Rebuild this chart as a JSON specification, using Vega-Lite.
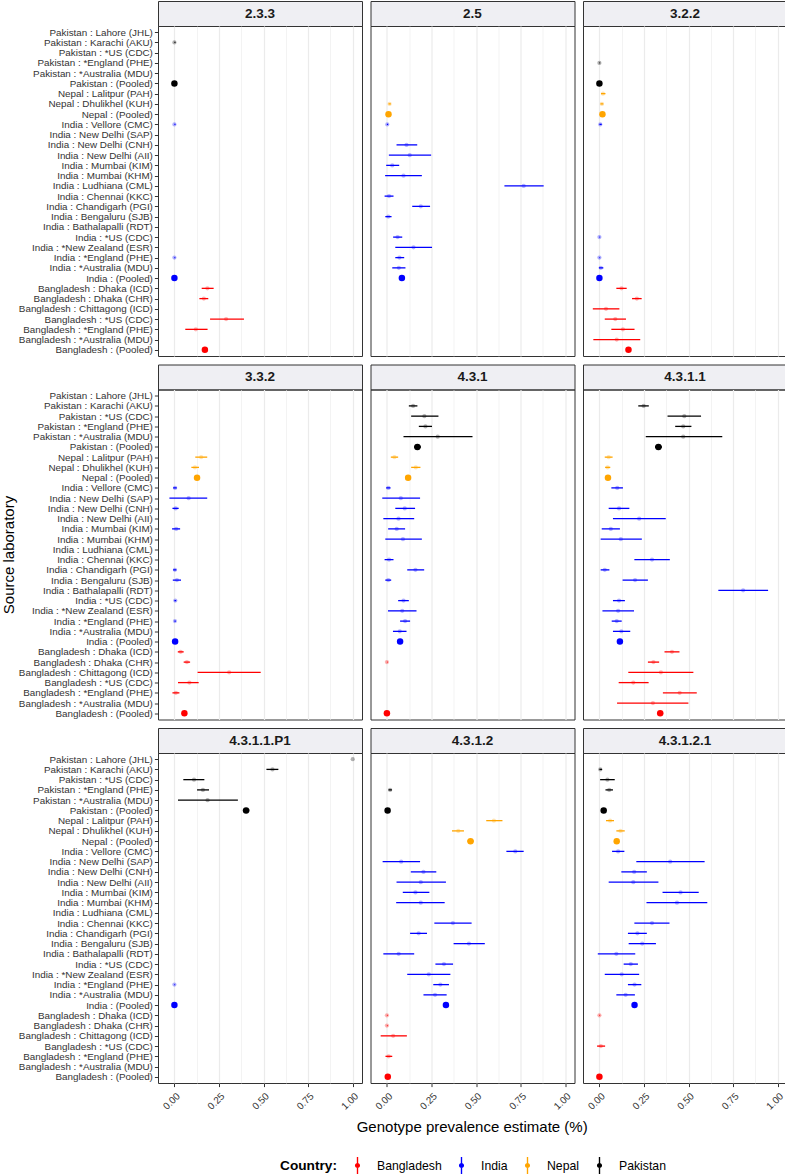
{
"$schema": "https://vega.github.io/schema/vega-lite/v6.json",
"padding": {"left": 0, "top": 0, "right": 0, "bottom": 0},
"background": "white",
"title": {"text": "Genotype prevalence estimate (%)", "orient": "bottom", "anchor": "middle", "fontSize": 15, "fontWeight": "normal", "font": "Liberation Sans", "color": "#000000", "offset": -54, "dx": 78},
"datasets": {"d": [
{"g":"2.3.3","c":"Pakistan","lab":"Pakistan : Karachi (AKU)","est":0,"lo":0,"hi":0.006},
{"g":"2.3.3","c":"Pakistan","lab":"Pakistan : (Pooled)","est":0,"lo":0,"hi":0.003},
{"g":"2.3.3","c":"India","lab":"India : Vellore (CMC)","est":0,"lo":0,"hi":0.006},
{"g":"2.3.3","c":"India","lab":"India : *England (PHE)","est":0,"lo":0,"hi":0.005},
{"g":"2.3.3","c":"India","lab":"India : (Pooled)","est":0,"lo":0,"hi":0.002},
{"g":"2.3.3","c":"Bangladesh","lab":"Bangladesh : Dhaka (ICD)","est":0.185,"lo":0.153,"hi":0.22},
{"g":"2.3.3","c":"Bangladesh","lab":"Bangladesh : Dhaka (CHR)","est":0.165,"lo":0.14,"hi":0.19},
{"g":"2.3.3","c":"Bangladesh","lab":"Bangladesh : *US (CDC)","est":0.29,"lo":0.2,"hi":0.39},
{"g":"2.3.3","c":"Bangladesh","lab":"Bangladesh : *England (PHE)","est":0.12,"lo":0.061,"hi":0.186},
{"g":"2.3.3","c":"Bangladesh","lab":"Bangladesh : (Pooled)","est":0.171,"lo":0.158,"hi":0.184},

{"g":"2.5","c":"Nepal","lab":"Nepal : Dhulikhel (KUH)","est":0.015,"lo":0.009,"hi":0.022},
{"g":"2.5","c":"Nepal","lab":"Nepal : (Pooled)","est":0.009,"lo":0.004,"hi":0.014},
{"g":"2.5","c":"India","lab":"India : Vellore (CMC)","est":0.002,"lo":0,"hi":0.007},
{"g":"2.5","c":"India","lab":"India : New Delhi (CNH)","est":0.11,"lo":0.054,"hi":0.17},
{"g":"2.5","c":"India","lab":"India : New Delhi (AII)","est":0.128,"lo":0.011,"hi":0.248},
{"g":"2.5","c":"India","lab":"India : Mumbai (KIM)","est":0.03,"lo":-0.004,"hi":0.069},
{"g":"2.5","c":"India","lab":"India : Mumbai (KHM)","est":0.093,"lo":-0.01,"hi":0.196},
{"g":"2.5","c":"India","lab":"India : Ludhiana (CML)","est":0.767,"lo":0.659,"hi":0.879},
{"g":"2.5","c":"India","lab":"India : Chennai (KKC)","est":0.012,"lo":-0.013,"hi":0.037},
{"g":"2.5","c":"India","lab":"India : Chandigarh (PGI)","est":0.19,"lo":0.142,"hi":0.242},
{"g":"2.5","c":"India","lab":"India : Bengaluru (SJB)","est":0.008,"lo":-0.009,"hi":0.026},
{"g":"2.5","c":"India","lab":"India : *US (CDC)","est":0.06,"lo":0.035,"hi":0.086},
{"g":"2.5","c":"India","lab":"India : *New Zealand (ESR)","est":0.149,"lo":0.047,"hi":0.253},
{"g":"2.5","c":"India","lab":"India : *England (PHE)","est":0.07,"lo":0.047,"hi":0.097},
{"g":"2.5","c":"India","lab":"India : *Australia (MDU)","est":0.067,"lo":0.03,"hi":0.104},
{"g":"2.5","c":"India","lab":"India : (Pooled)","est":0.084,"lo":0.074,"hi":0.094},

{"g":"3.2.2","c":"Pakistan","lab":"Pakistan : *England (PHE)","est":0,"lo":0,"hi":0.004},
{"g":"3.2.2","c":"Pakistan","lab":"Pakistan : (Pooled)","est":0,"lo":0,"hi":0.003},
{"g":"3.2.2","c":"Nepal","lab":"Nepal : Lalitpur (PAH)","est":0.02,"lo":0.009,"hi":0.034},
{"g":"3.2.2","c":"Nepal","lab":"Nepal : Dhulikhel (KUH)","est":0.014,"lo":0.006,"hi":0.022},
{"g":"3.2.2","c":"Nepal","lab":"Nepal : (Pooled)","est":0.017,"lo":0.01,"hi":0.024},
{"g":"3.2.2","c":"India","lab":"India : Vellore (CMC)","est":0.005,"lo":0,"hi":0.013},
{"g":"3.2.2","c":"India","lab":"India : *US (CDC)","est":0,"lo":0,"hi":0.004},
{"g":"3.2.2","c":"India","lab":"India : *England (PHE)","est":0,"lo":0,"hi":0.004},
{"g":"3.2.2","c":"India","lab":"India : *Australia (MDU)","est":0.008,"lo":-0.003,"hi":0.022},
{"g":"3.2.2","c":"India","lab":"India : (Pooled)","est":0,"lo":0,"hi":0.003},
{"g":"3.2.2","c":"Bangladesh","lab":"Bangladesh : Dhaka (ICD)","est":0.124,"lo":0.095,"hi":0.153},
{"g":"3.2.2","c":"Bangladesh","lab":"Bangladesh : Dhaka (CHR)","est":0.21,"lo":0.183,"hi":0.237},
{"g":"3.2.2","c":"Bangladesh","lab":"Bangladesh : Chittagong (ICD)","est":0.037,"lo":-0.037,"hi":0.112},
{"g":"3.2.2","c":"Bangladesh","lab":"Bangladesh : *US (CDC)","est":0.089,"lo":0.03,"hi":0.149},
{"g":"3.2.2","c":"Bangladesh","lab":"Bangladesh : *England (PHE)","est":0.132,"lo":0.067,"hi":0.197},
{"g":"3.2.2","c":"Bangladesh","lab":"Bangladesh : *Australia (MDU)","est":0.097,"lo":-0.034,"hi":0.229},
{"g":"3.2.2","c":"Bangladesh","lab":"Bangladesh : (Pooled)","est":0.163,"lo":0.152,"hi":0.174},

{"g":"3.3.2","c":"Nepal","lab":"Nepal : Lalitpur (PAH)","est":0.15,"lo":0.117,"hi":0.184},
{"g":"3.3.2","c":"Nepal","lab":"Nepal : Dhulikhel (KUH)","est":0.115,"lo":0.095,"hi":0.138},
{"g":"3.3.2","c":"Nepal","lab":"Nepal : (Pooled)","est":0.127,"lo":0.115,"hi":0.14},
{"g":"3.3.2","c":"India","lab":"India : Vellore (CMC)","est":0.004,"lo":-0.007,"hi":0.013},
{"g":"3.3.2","c":"India","lab":"India : New Delhi (SAP)","est":0.08,"lo":-0.028,"hi":0.184},
{"g":"3.3.2","c":"India","lab":"India : New Delhi (CNH)","est":0.007,"lo":-0.011,"hi":0.024},
{"g":"3.3.2","c":"India","lab":"India : Mumbai (KIM)","est":0.01,"lo":-0.013,"hi":0.032},
{"g":"3.3.2","c":"India","lab":"India : Chandigarh (PGI)","est":0.003,"lo":-0.007,"hi":0.011},
{"g":"3.3.2","c":"India","lab":"India : Bengaluru (SJB)","est":0.014,"lo":-0.009,"hi":0.037},
{"g":"3.3.2","c":"India","lab":"India : *US (CDC)","est":0.005,"lo":0,"hi":0.01},
{"g":"3.3.2","c":"India","lab":"India : *England (PHE)","est":0.003,"lo":0,"hi":0.008},
{"g":"3.3.2","c":"India","lab":"India : (Pooled)","est":0.004,"lo":0,"hi":0.008},
{"g":"3.3.2","c":"Bangladesh","lab":"Bangladesh : Dhaka (ICD)","est":0.035,"lo":0.019,"hi":0.052},
{"g":"3.3.2","c":"Bangladesh","lab":"Bangladesh : Dhaka (CHR)","est":0.07,"lo":0.052,"hi":0.088},
{"g":"3.3.2","c":"Bangladesh","lab":"Bangladesh : Chittagong (ICD)","est":0.307,"lo":0.13,"hi":0.484},
{"g":"3.3.2","c":"Bangladesh","lab":"Bangladesh : *US (CDC)","est":0.084,"lo":0.02,"hi":0.136},
{"g":"3.3.2","c":"Bangladesh","lab":"Bangladesh : *England (PHE)","est":0.008,"lo":-0.011,"hi":0.028},
{"g":"3.3.2","c":"Bangladesh","lab":"Bangladesh : (Pooled)","est":0.056,"lo":0.048,"hi":0.064},

{"g":"4.3.1","c":"Pakistan","lab":"Pakistan : Karachi (AKU)","est":0.147,"lo":0.123,"hi":0.171},
{"g":"4.3.1","c":"Pakistan","lab":"Pakistan : *US (CDC)","est":0.21,"lo":0.136,"hi":0.289},
{"g":"4.3.1","c":"Pakistan","lab":"Pakistan : *England (PHE)","est":0.216,"lo":0.179,"hi":0.253},
{"g":"4.3.1","c":"Pakistan","lab":"Pakistan : *Australia (MDU)","est":0.285,"lo":0.093,"hi":0.48},
{"g":"4.3.1","c":"Pakistan","lab":"Pakistan : (Pooled)","est":0.171,"lo":0.153,"hi":0.19},
{"g":"4.3.1","c":"Nepal","lab":"Nepal : Lalitpur (PAH)","est":0.042,"lo":0.022,"hi":0.063},
{"g":"4.3.1","c":"Nepal","lab":"Nepal : Dhulikhel (KUH)","est":0.162,"lo":0.136,"hi":0.188},
{"g":"4.3.1","c":"Nepal","lab":"Nepal : (Pooled)","est":0.119,"lo":0.106,"hi":0.132},
{"g":"4.3.1","c":"India","lab":"India : Vellore (CMC)","est":0.008,"lo":-0.004,"hi":0.02},
{"g":"4.3.1","c":"India","lab":"India : New Delhi (SAP)","est":0.078,"lo":-0.026,"hi":0.186},
{"g":"4.3.1","c":"India","lab":"India : New Delhi (CNH)","est":0.1,"lo":0.047,"hi":0.158},
{"g":"4.3.1","c":"India","lab":"India : New Delhi (AII)","est":0.065,"lo":-0.02,"hi":0.153},
{"g":"4.3.1","c":"India","lab":"India : Mumbai (KIM)","est":0.055,"lo":0.007,"hi":0.102},
{"g":"4.3.1","c":"India","lab":"India : Mumbai (KHM)","est":0.09,"lo":-0.009,"hi":0.196},
{"g":"4.3.1","c":"India","lab":"India : Chennai (KKC)","est":0.012,"lo":-0.013,"hi":0.037},
{"g":"4.3.1","c":"India","lab":"India : Chandigarh (PGI)","est":0.16,"lo":0.114,"hi":0.209},
{"g":"4.3.1","c":"India","lab":"India : Bengaluru (SJB)","est":0.008,"lo":-0.009,"hi":0.024},
{"g":"4.3.1","c":"India","lab":"India : *US (CDC)","est":0.093,"lo":0.063,"hi":0.123},
{"g":"4.3.1","c":"India","lab":"India : *New Zealand (ESR)","est":0.086,"lo":0.006,"hi":0.166},
{"g":"4.3.1","c":"India","lab":"India : *England (PHE)","est":0.102,"lo":0.074,"hi":0.13},
{"g":"4.3.1","c":"India","lab":"India : *Australia (MDU)","est":0.072,"lo":0.034,"hi":0.11},
{"g":"4.3.1","c":"India","lab":"India : (Pooled)","est":0.074,"lo":0.066,"hi":0.082},
{"g":"4.3.1","c":"Bangladesh","lab":"Bangladesh : Dhaka (CHR)","est":0,"lo":0,"hi":0.004},
{"g":"4.3.1","c":"Bangladesh","lab":"Bangladesh : (Pooled)","est":0,"lo":0,"hi":0.003},

{"g":"4.3.1.1","c":"Pakistan","lab":"Pakistan : Karachi (AKU)","est":0.248,"lo":0.218,"hi":0.277},
{"g":"4.3.1.1","c":"Pakistan","lab":"Pakistan : *US (CDC)","est":0.476,"lo":0.382,"hi":0.57},
{"g":"4.3.1.1","c":"Pakistan","lab":"Pakistan : *England (PHE)","est":0.47,"lo":0.425,"hi":0.516},
{"g":"4.3.1.1","c":"Pakistan","lab":"Pakistan : *Australia (MDU)","est":0.47,"lo":0.26,"hi":0.689},
{"g":"4.3.1.1","c":"Pakistan","lab":"Pakistan : (Pooled)","est":0.331,"lo":0.312,"hi":0.35},
{"g":"4.3.1.1","c":"Nepal","lab":"Nepal : Lalitpur (PAH)","est":0.052,"lo":0.03,"hi":0.074},
{"g":"4.3.1.1","c":"Nepal","lab":"Nepal : Dhulikhel (KUH)","est":0.046,"lo":0.032,"hi":0.061},
{"g":"4.3.1.1","c":"Nepal","lab":"Nepal : (Pooled)","est":0.048,"lo":0.04,"hi":0.056},
{"g":"4.3.1.1","c":"India","lab":"India : Vellore (CMC)","est":0.1,"lo":0.067,"hi":0.132},
{"g":"4.3.1.1","c":"India","lab":"India : New Delhi (CNH)","est":0.11,"lo":0.052,"hi":0.168},
{"g":"4.3.1.1","c":"India","lab":"India : New Delhi (AII)","est":0.223,"lo":0.076,"hi":0.372},
{"g":"4.3.1.1","c":"India","lab":"India : Mumbai (KIM)","est":0.064,"lo":0.013,"hi":0.115},
{"g":"4.3.1.1","c":"India","lab":"India : Mumbai (KHM)","est":0.12,"lo":0.007,"hi":0.238},
{"g":"4.3.1.1","c":"India","lab":"India : Chennai (KKC)","est":0.295,"lo":0.196,"hi":0.395},
{"g":"4.3.1.1","c":"India","lab":"India : Chandigarh (PGI)","est":0.03,"lo":0.007,"hi":0.056},
{"g":"4.3.1.1","c":"India","lab":"India : Bengaluru (SJB)","est":0.2,"lo":0.13,"hi":0.272},
{"g":"4.3.1.1","c":"India","lab":"India : Bathalapalli (RDT)","est":0.806,"lo":0.667,"hi":0.946},
{"g":"4.3.1.1","c":"India","lab":"India : *US (CDC)","est":0.11,"lo":0.076,"hi":0.143},
{"g":"4.3.1.1","c":"India","lab":"India : *New Zealand (ESR)","est":0.105,"lo":0.017,"hi":0.194},
{"g":"4.3.1.1","c":"India","lab":"India : *England (PHE)","est":0.097,"lo":0.069,"hi":0.125},
{"g":"4.3.1.1","c":"India","lab":"India : *Australia (MDU)","est":0.123,"lo":0.076,"hi":0.173},
{"g":"4.3.1.1","c":"India","lab":"India : (Pooled)","est":0.115,"lo":0.105,"hi":0.125},
{"g":"4.3.1.1","c":"Bangladesh","lab":"Bangladesh : Dhaka (ICD)","est":0.407,"lo":0.365,"hi":0.449},
{"g":"4.3.1.1","c":"Bangladesh","lab":"Bangladesh : Dhaka (CHR)","est":0.303,"lo":0.272,"hi":0.335},
{"g":"4.3.1.1","c":"Bangladesh","lab":"Bangladesh : Chittagong (ICD)","est":0.345,"lo":0.162,"hi":0.527},
{"g":"4.3.1.1","c":"Bangladesh","lab":"Bangladesh : *US (CDC)","est":0.19,"lo":0.108,"hi":0.276},
{"g":"4.3.1.1","c":"Bangladesh","lab":"Bangladesh : *England (PHE)","est":0.45,"lo":0.356,"hi":0.546},
{"g":"4.3.1.1","c":"Bangladesh","lab":"Bangladesh : *Australia (MDU)","est":0.3,"lo":0.099,"hi":0.499},
{"g":"4.3.1.1","c":"Bangladesh","lab":"Bangladesh : (Pooled)","est":0.341,"lo":0.325,"hi":0.357},

{"g":"4.3.1.1.P1","c":"Pakistan","lab":"Pakistan : Lahore (JHL)","est":1,"lo":1,"hi":1},
{"g":"4.3.1.1.P1","c":"Pakistan","lab":"Pakistan : Karachi (AKU)","est":0.55,"lo":0.516,"hi":0.583},
{"g":"4.3.1.1.P1","c":"Pakistan","lab":"Pakistan : *US (CDC)","est":0.11,"lo":0.05,"hi":0.168},
{"g":"4.3.1.1.P1","c":"Pakistan","lab":"Pakistan : *England (PHE)","est":0.16,"lo":0.127,"hi":0.194},
{"g":"4.3.1.1.P1","c":"Pakistan","lab":"Pakistan : *Australia (MDU)","est":0.186,"lo":0.02,"hi":0.356},
{"g":"4.3.1.1.P1","c":"Pakistan","lab":"Pakistan : (Pooled)","est":0.402,"lo":0.384,"hi":0.42},
{"g":"4.3.1.1.P1","c":"India","lab":"India : *England (PHE)","est":0,"lo":0,"hi":0.004},
{"g":"4.3.1.1.P1","c":"India","lab":"India : (Pooled)","est":0,"lo":0,"hi":0.003},

{"g":"4.3.1.2","c":"Pakistan","lab":"Pakistan : *England (PHE)","est":0.018,"lo":0.009,"hi":0.028},
{"g":"4.3.1.2","c":"Pakistan","lab":"Pakistan : (Pooled)","est":0.004,"lo":0,"hi":0.008},
{"g":"4.3.1.2","c":"Nepal","lab":"Nepal : Lalitpur (PAH)","est":0.6,"lo":0.557,"hi":0.648},
{"g":"4.3.1.2","c":"Nepal","lab":"Nepal : Dhulikhel (KUH)","est":0.4,"lo":0.365,"hi":0.432},
{"g":"4.3.1.2","c":"Nepal","lab":"Nepal : (Pooled)","est":0.469,"lo":0.452,"hi":0.486},
{"g":"4.3.1.2","c":"India","lab":"India : Vellore (CMC)","est":0.72,"lo":0.67,"hi":0.767},
{"g":"4.3.1.2","c":"India","lab":"India : New Delhi (SAP)","est":0.08,"lo":-0.024,"hi":0.186},
{"g":"4.3.1.2","c":"India","lab":"India : New Delhi (CNH)","est":0.205,"lo":0.134,"hi":0.277},
{"g":"4.3.1.2","c":"India","lab":"India : New Delhi (AII)","est":0.19,"lo":0.054,"hi":0.331},
{"g":"4.3.1.2","c":"India","lab":"India : Mumbai (KIM)","est":0.16,"lo":0.089,"hi":0.238},
{"g":"4.3.1.2","c":"India","lab":"India : Mumbai (KHM)","est":0.19,"lo":0.052,"hi":0.324},
{"g":"4.3.1.2","c":"India","lab":"India : Chennai (KKC)","est":0.37,"lo":0.266,"hi":0.475},
{"g":"4.3.1.2","c":"India","lab":"India : Chandigarh (PGI)","est":0.178,"lo":0.13,"hi":0.225},
{"g":"4.3.1.2","c":"India","lab":"India : Bengaluru (SJB)","est":0.46,"lo":0.374,"hi":0.549},
{"g":"4.3.1.2","c":"India","lab":"India : Bathalapalli (RDT)","est":0.066,"lo":-0.02,"hi":0.153},
{"g":"4.3.1.2","c":"India","lab":"India : *US (CDC)","est":0.32,"lo":0.272,"hi":0.371},
{"g":"4.3.1.2","c":"India","lab":"India : *New Zealand (ESR)","est":0.235,"lo":0.114,"hi":0.356},
{"g":"4.3.1.2","c":"India","lab":"India : *England (PHE)","est":0.3,"lo":0.26,"hi":0.348},
{"g":"4.3.1.2","c":"India","lab":"India : *Australia (MDU)","est":0.27,"lo":0.205,"hi":0.335},
{"g":"4.3.1.2","c":"India","lab":"India : (Pooled)","est":0.331,"lo":0.316,"hi":0.346},
{"g":"4.3.1.2","c":"Bangladesh","lab":"Bangladesh : Dhaka (ICD)","est":0,"lo":0,"hi":0.004},
{"g":"4.3.1.2","c":"Bangladesh","lab":"Bangladesh : Dhaka (CHR)","est":0,"lo":0,"hi":0.004},
{"g":"4.3.1.2","c":"Bangladesh","lab":"Bangladesh : Chittagong (ICD)","est":0.035,"lo":-0.035,"hi":0.112},
{"g":"4.3.1.2","c":"Bangladesh","lab":"Bangladesh : *England (PHE)","est":0.01,"lo":-0.008,"hi":0.03},
{"g":"4.3.1.2","c":"Bangladesh","lab":"Bangladesh : (Pooled)","est":0.005,"lo":0,"hi":0.01},

{"g":"4.3.1.2.1","c":"Pakistan","lab":"Pakistan : Karachi (AKU)","est":0.005,"lo":0,"hi":0.015},
{"g":"4.3.1.2.1","c":"Pakistan","lab":"Pakistan : *US (CDC)","est":0.045,"lo":0.004,"hi":0.086},
{"g":"4.3.1.2.1","c":"Pakistan","lab":"Pakistan : *England (PHE)","est":0.055,"lo":0.034,"hi":0.076},
{"g":"4.3.1.2.1","c":"Pakistan","lab":"Pakistan : (Pooled)","est":0.024,"lo":0.014,"hi":0.034},
{"g":"4.3.1.2.1","c":"Nepal","lab":"Nepal : Lalitpur (PAH)","est":0.06,"lo":0.037,"hi":0.082},
{"g":"4.3.1.2.1","c":"Nepal","lab":"Nepal : Dhulikhel (KUH)","est":0.118,"lo":0.095,"hi":0.142},
{"g":"4.3.1.2.1","c":"Nepal","lab":"Nepal : (Pooled)","est":0.097,"lo":0.085,"hi":0.109},
{"g":"4.3.1.2.1","c":"India","lab":"India : Vellore (CMC)","est":0.105,"lo":0.071,"hi":0.14},
{"g":"4.3.1.2.1","c":"India","lab":"India : New Delhi (SAP)","est":0.397,"lo":0.207,"hi":0.59},
{"g":"4.3.1.2.1","c":"India","lab":"India : New Delhi (CNH)","est":0.195,"lo":0.123,"hi":0.266},
{"g":"4.3.1.2.1","c":"India","lab":"India : New Delhi (AII)","est":0.19,"lo":0.052,"hi":0.331},
{"g":"4.3.1.2.1","c":"India","lab":"India : Mumbai (KIM)","est":0.455,"lo":0.354,"hi":0.557},
{"g":"4.3.1.2.1","c":"India","lab":"India : Mumbai (KHM)","est":0.435,"lo":0.264,"hi":0.605},
{"g":"4.3.1.2.1","c":"India","lab":"India : Chennai (KKC)","est":0.295,"lo":0.196,"hi":0.393},
{"g":"4.3.1.2.1","c":"India","lab":"India : Chandigarh (PGI)","est":0.213,"lo":0.16,"hi":0.266},
{"g":"4.3.1.2.1","c":"India","lab":"India : Bengaluru (SJB)","est":0.24,"lo":0.164,"hi":0.317},
{"g":"4.3.1.2.1","c":"India","lab":"India : Bathalapalli (RDT)","est":0.095,"lo":-0.009,"hi":0.201},
{"g":"4.3.1.2.1","c":"India","lab":"India : *US (CDC)","est":0.176,"lo":0.136,"hi":0.216},
{"g":"4.3.1.2.1","c":"India","lab":"India : *New Zealand (ESR)","est":0.125,"lo":0.03,"hi":0.223},
{"g":"4.3.1.2.1","c":"India","lab":"India : *England (PHE)","est":0.197,"lo":0.16,"hi":0.235},
{"g":"4.3.1.2.1","c":"India","lab":"India : *Australia (MDU)","est":0.147,"lo":0.095,"hi":0.199},
{"g":"4.3.1.2.1","c":"India","lab":"India : (Pooled)","est":0.197,"lo":0.187,"hi":0.207},
{"g":"4.3.1.2.1","c":"Bangladesh","lab":"Bangladesh : Dhaka (ICD)","est":0,"lo":0,"hi":0.004},
{"g":"4.3.1.2.1","c":"Bangladesh","lab":"Bangladesh : *US (CDC)","est":0.008,"lo":-0.013,"hi":0.032},
{"g":"4.3.1.2.1","c":"Bangladesh","lab":"Bangladesh : (Pooled)","est":0,"lo":0,"hi":0.004}
]},
"spacing": 6.5,
"vconcat": [
{"hconcat": [
 {"vconcat": [
  {"width": 204, "height": 25, "view": {"fill": "#EFEFF3", "stroke": "#333333"}, "data": {"values": [{"g": "2.3.3"}]}, "mark": {"type": "text", "fontWeight": "bold", "fontSize": 13.5, "color": "#1A1A1A"}, "encoding": {"text": {"field": "g"}}},
  {"width": 204, "height": 330, "data": {"name": "d"}, "transform": [{"filter": "datum.g === '2.3.3'"}],
   "encoding": {
    "y": {"field": "lab", "type": "nominal", "scale": {"type": "point", "padding": 0.6, "domain": ["Pakistan : Lahore (JHL)","Pakistan : Karachi (AKU)","Pakistan : *US (CDC)","Pakistan : *England (PHE)","Pakistan : *Australia (MDU)","Pakistan : (Pooled)","Nepal : Lalitpur (PAH)","Nepal : Dhulikhel (KUH)","Nepal : (Pooled)","India : Vellore (CMC)","India : New Delhi (SAP)","India : New Delhi (CNH)","India : New Delhi (AII)","India : Mumbai (KIM)","India : Mumbai (KHM)","India : Ludhiana (CML)","India : Chennai (KKC)","India : Chandigarh (PGI)","India : Bengaluru (SJB)","India : Bathalapalli (RDT)","India : *US (CDC)","India : *New Zealand (ESR)","India : *England (PHE)","India : *Australia (MDU)","India : (Pooled)","Bangladesh : Dhaka (ICD)","Bangladesh : Dhaka (CHR)","Bangladesh : Chittagong (ICD)","Bangladesh : *US (CDC)","Bangladesh : *England (PHE)","Bangladesh : *Australia (MDU)","Bangladesh : (Pooled)"]}, "axis": {"title": "Source laboratory", "titleOpacity": 0, "titlePadding": 2, "labelLimit": 300, "gridWidth": 1.1}},
    "color": {"field": "c", "type": "nominal", "scale": {"domain": ["Bangladesh","India","Nepal","Pakistan"], "range": ["#FF0000","#0000FF","#FFA500","#000000"]}, "legend": {"title": "Country:", "orient": "none", "legendX": 122, "legendY": 1156, "direction": "horizontal", "titleOrient": "left", "symbolType": "M-0.08,-1H0.08V1H-0.08Z M0.3,0A0.3,0.3,0,1,1,-0.3,0A0.3,0.3,0,1,1,0.3,0Z", "symbolSize": 289, "symbolOpacity": 1, "symbolStrokeWidth": 0, "labelOffset": 11, "columnPadding": 11, "titlePadding": 11}}
   },
   "layer": [
    {"mark": {"type": "point", "filled": true}, "encoding": {"x": {"field": "est", "type": "quantitative", "scale": {"domain": [-0.092, 1.052], "nice": false, "zero": false}, "axis": {"values": [0,0.125,0.25,0.375,0.5,0.625,0.75,0.875,1], "labels": false, "ticks": false, "title": null, "gridWidth": {"condition": {"test": "datum.value % 0.25 === 0", "value": 1.2}, "value": 0.6}}}, "size": {"condition": {"test": "indexof(datum.lab, 'Pooled') >= 0", "value": 42}, "value": 18}, "opacity": {"condition": {"test": "indexof(datum.lab, 'Pooled') >= 0", "value": 1}, "value": 0.3}}},
    {"mark": {"type": "rule"}, "encoding": {"x": {"field": "lo", "type": "quantitative", "scale": {"domain": [-0.092, 1.052], "nice": false, "zero": false}, "axis": {"values": [0,0.125,0.25,0.375,0.5,0.625,0.75,0.875,1], "labels": false, "ticks": false, "title": null, "gridWidth": {"condition": {"test": "datum.value % 0.25 === 0", "value": 1.2}, "value": 0.6}}}, "x2": {"field": "hi"}, "strokeWidth": {"condition": {"test": "indexof(datum.lab, 'Pooled') >= 0", "value": 2.2}, "value": 1.3}}}
   ]}
 ], "spacing": 0, "bounds": "flush"},
 {"vconcat": [
  {"width": 204, "height": 25, "view": {"fill": "#EFEFF3", "stroke": "#333333"}, "data": {"values": [{"g": "2.5"}]}, "mark": {"type": "text", "fontWeight": "bold", "fontSize": 13.5, "color": "#1A1A1A"}, "encoding": {"text": {"field": "g"}}},
  {"width": 204, "height": 330, "data": {"name": "d"}, "transform": [{"filter": "datum.g === '2.5'"}],
   "encoding": {
    "y": {"field": "lab", "type": "nominal", "scale": {"type": "point", "padding": 0.6, "domain": ["Pakistan : Lahore (JHL)","Pakistan : Karachi (AKU)","Pakistan : *US (CDC)","Pakistan : *England (PHE)","Pakistan : *Australia (MDU)","Pakistan : (Pooled)","Nepal : Lalitpur (PAH)","Nepal : Dhulikhel (KUH)","Nepal : (Pooled)","India : Vellore (CMC)","India : New Delhi (SAP)","India : New Delhi (CNH)","India : New Delhi (AII)","India : Mumbai (KIM)","India : Mumbai (KHM)","India : Ludhiana (CML)","India : Chennai (KKC)","India : Chandigarh (PGI)","India : Bengaluru (SJB)","India : Bathalapalli (RDT)","India : *US (CDC)","India : *New Zealand (ESR)","India : *England (PHE)","India : *Australia (MDU)","India : (Pooled)","Bangladesh : Dhaka (ICD)","Bangladesh : Dhaka (CHR)","Bangladesh : Chittagong (ICD)","Bangladesh : *US (CDC)","Bangladesh : *England (PHE)","Bangladesh : *Australia (MDU)","Bangladesh : (Pooled)"]}, "axis": {"labels": false, "ticks": false, "title": null, "gridWidth": 1.1}},
    "color": {"field": "c", "type": "nominal", "scale": {"domain": ["Bangladesh","India","Nepal","Pakistan"], "range": ["#FF0000","#0000FF","#FFA500","#000000"]}, "legend": {"title": "Country:", "orient": "none", "legendX": 122, "legendY": 1156, "direction": "horizontal", "titleOrient": "left", "symbolType": "M-0.08,-1H0.08V1H-0.08Z M0.3,0A0.3,0.3,0,1,1,-0.3,0A0.3,0.3,0,1,1,0.3,0Z", "symbolSize": 289, "symbolOpacity": 1, "symbolStrokeWidth": 0, "labelOffset": 11, "columnPadding": 11, "titlePadding": 11}}
   },
   "layer": [
    {"mark": {"type": "point", "filled": true}, "encoding": {"x": {"field": "est", "type": "quantitative", "scale": {"domain": [-0.092, 1.052], "nice": false, "zero": false}, "axis": {"values": [0,0.125,0.25,0.375,0.5,0.625,0.75,0.875,1], "labels": false, "ticks": false, "title": null, "gridWidth": {"condition": {"test": "datum.value % 0.25 === 0", "value": 1.2}, "value": 0.6}}}, "size": {"condition": {"test": "indexof(datum.lab, 'Pooled') >= 0", "value": 42}, "value": 18}, "opacity": {"condition": {"test": "indexof(datum.lab, 'Pooled') >= 0", "value": 1}, "value": 0.3}}},
    {"mark": {"type": "rule"}, "encoding": {"x": {"field": "lo", "type": "quantitative", "scale": {"domain": [-0.092, 1.052], "nice": false, "zero": false}, "axis": {"values": [0,0.125,0.25,0.375,0.5,0.625,0.75,0.875,1], "labels": false, "ticks": false, "title": null, "gridWidth": {"condition": {"test": "datum.value % 0.25 === 0", "value": 1.2}, "value": 0.6}}}, "x2": {"field": "hi"}, "strokeWidth": {"condition": {"test": "indexof(datum.lab, 'Pooled') >= 0", "value": 2.2}, "value": 1.3}}}
   ]}
 ], "spacing": 0, "bounds": "flush"},
 {"vconcat": [
  {"width": 204, "height": 25, "view": {"fill": "#EFEFF3", "stroke": "#333333"}, "data": {"values": [{"g": "3.2.2"}]}, "mark": {"type": "text", "fontWeight": "bold", "fontSize": 13.5, "color": "#1A1A1A"}, "encoding": {"text": {"field": "g"}}},
  {"width": 204, "height": 330, "data": {"name": "d"}, "transform": [{"filter": "datum.g === '3.2.2'"}],
   "encoding": {
    "y": {"field": "lab", "type": "nominal", "scale": {"type": "point", "padding": 0.6, "domain": ["Pakistan : Lahore (JHL)","Pakistan : Karachi (AKU)","Pakistan : *US (CDC)","Pakistan : *England (PHE)","Pakistan : *Australia (MDU)","Pakistan : (Pooled)","Nepal : Lalitpur (PAH)","Nepal : Dhulikhel (KUH)","Nepal : (Pooled)","India : Vellore (CMC)","India : New Delhi (SAP)","India : New Delhi (CNH)","India : New Delhi (AII)","India : Mumbai (KIM)","India : Mumbai (KHM)","India : Ludhiana (CML)","India : Chennai (KKC)","India : Chandigarh (PGI)","India : Bengaluru (SJB)","India : Bathalapalli (RDT)","India : *US (CDC)","India : *New Zealand (ESR)","India : *England (PHE)","India : *Australia (MDU)","India : (Pooled)","Bangladesh : Dhaka (ICD)","Bangladesh : Dhaka (CHR)","Bangladesh : Chittagong (ICD)","Bangladesh : *US (CDC)","Bangladesh : *England (PHE)","Bangladesh : *Australia (MDU)","Bangladesh : (Pooled)"]}, "axis": {"labels": false, "ticks": false, "title": null, "gridWidth": 1.1}},
    "color": {"field": "c", "type": "nominal", "scale": {"domain": ["Bangladesh","India","Nepal","Pakistan"], "range": ["#FF0000","#0000FF","#FFA500","#000000"]}, "legend": {"title": "Country:", "orient": "none", "legendX": 122, "legendY": 1156, "direction": "horizontal", "titleOrient": "left", "symbolType": "M-0.08,-1H0.08V1H-0.08Z M0.3,0A0.3,0.3,0,1,1,-0.3,0A0.3,0.3,0,1,1,0.3,0Z", "symbolSize": 289, "symbolOpacity": 1, "symbolStrokeWidth": 0, "labelOffset": 11, "columnPadding": 11, "titlePadding": 11}}
   },
   "layer": [
    {"mark": {"type": "point", "filled": true}, "encoding": {"x": {"field": "est", "type": "quantitative", "scale": {"domain": [-0.092, 1.052], "nice": false, "zero": false}, "axis": {"values": [0,0.125,0.25,0.375,0.5,0.625,0.75,0.875,1], "labels": false, "ticks": false, "title": null, "gridWidth": {"condition": {"test": "datum.value % 0.25 === 0", "value": 1.2}, "value": 0.6}}}, "size": {"condition": {"test": "indexof(datum.lab, 'Pooled') >= 0", "value": 42}, "value": 18}, "opacity": {"condition": {"test": "indexof(datum.lab, 'Pooled') >= 0", "value": 1}, "value": 0.3}}},
    {"mark": {"type": "rule"}, "encoding": {"x": {"field": "lo", "type": "quantitative", "scale": {"domain": [-0.092, 1.052], "nice": false, "zero": false}, "axis": {"values": [0,0.125,0.25,0.375,0.5,0.625,0.75,0.875,1], "labels": false, "ticks": false, "title": null, "gridWidth": {"condition": {"test": "datum.value % 0.25 === 0", "value": 1.2}, "value": 0.6}}}, "x2": {"field": "hi"}, "strokeWidth": {"condition": {"test": "indexof(datum.lab, 'Pooled') >= 0", "value": 2.2}, "value": 1.3}}}
   ]}
 ], "spacing": 0, "bounds": "flush"}
], "spacing": 6.5},
{"hconcat": [
 {"vconcat": [
  {"width": 204, "height": 25, "view": {"fill": "#EFEFF3", "stroke": "#333333"}, "data": {"values": [{"g": "3.3.2"}]}, "mark": {"type": "text", "fontWeight": "bold", "fontSize": 13.5, "color": "#1A1A1A"}, "encoding": {"text": {"field": "g"}}},
  {"width": 204, "height": 330, "data": {"name": "d"}, "transform": [{"filter": "datum.g === '3.3.2'"}],
   "encoding": {
    "y": {"field": "lab", "type": "nominal", "scale": {"type": "point", "padding": 0.6, "domain": ["Pakistan : Lahore (JHL)","Pakistan : Karachi (AKU)","Pakistan : *US (CDC)","Pakistan : *England (PHE)","Pakistan : *Australia (MDU)","Pakistan : (Pooled)","Nepal : Lalitpur (PAH)","Nepal : Dhulikhel (KUH)","Nepal : (Pooled)","India : Vellore (CMC)","India : New Delhi (SAP)","India : New Delhi (CNH)","India : New Delhi (AII)","India : Mumbai (KIM)","India : Mumbai (KHM)","India : Ludhiana (CML)","India : Chennai (KKC)","India : Chandigarh (PGI)","India : Bengaluru (SJB)","India : Bathalapalli (RDT)","India : *US (CDC)","India : *New Zealand (ESR)","India : *England (PHE)","India : *Australia (MDU)","India : (Pooled)","Bangladesh : Dhaka (ICD)","Bangladesh : Dhaka (CHR)","Bangladesh : Chittagong (ICD)","Bangladesh : *US (CDC)","Bangladesh : *England (PHE)","Bangladesh : *Australia (MDU)","Bangladesh : (Pooled)"]}, "axis": {"title": "Source laboratory", "titleOpacity": 1, "titlePadding": 2, "labelLimit": 300, "gridWidth": 1.1}},
    "color": {"field": "c", "type": "nominal", "scale": {"domain": ["Bangladesh","India","Nepal","Pakistan"], "range": ["#FF0000","#0000FF","#FFA500","#000000"]}, "legend": {"title": "Country:", "orient": "none", "legendX": 122, "legendY": 1156, "direction": "horizontal", "titleOrient": "left", "symbolType": "M-0.08,-1H0.08V1H-0.08Z M0.3,0A0.3,0.3,0,1,1,-0.3,0A0.3,0.3,0,1,1,0.3,0Z", "symbolSize": 289, "symbolOpacity": 1, "symbolStrokeWidth": 0, "labelOffset": 11, "columnPadding": 11, "titlePadding": 11}}
   },
   "layer": [
    {"mark": {"type": "point", "filled": true}, "encoding": {"x": {"field": "est", "type": "quantitative", "scale": {"domain": [-0.092, 1.052], "nice": false, "zero": false}, "axis": {"values": [0,0.125,0.25,0.375,0.5,0.625,0.75,0.875,1], "labels": false, "ticks": false, "title": null, "gridWidth": {"condition": {"test": "datum.value % 0.25 === 0", "value": 1.2}, "value": 0.6}}}, "size": {"condition": {"test": "indexof(datum.lab, 'Pooled') >= 0", "value": 42}, "value": 18}, "opacity": {"condition": {"test": "indexof(datum.lab, 'Pooled') >= 0", "value": 1}, "value": 0.3}}},
    {"mark": {"type": "rule"}, "encoding": {"x": {"field": "lo", "type": "quantitative", "scale": {"domain": [-0.092, 1.052], "nice": false, "zero": false}, "axis": {"values": [0,0.125,0.25,0.375,0.5,0.625,0.75,0.875,1], "labels": false, "ticks": false, "title": null, "gridWidth": {"condition": {"test": "datum.value % 0.25 === 0", "value": 1.2}, "value": 0.6}}}, "x2": {"field": "hi"}, "strokeWidth": {"condition": {"test": "indexof(datum.lab, 'Pooled') >= 0", "value": 2.2}, "value": 1.3}}}
   ]}
 ], "spacing": 0, "bounds": "flush"},
 {"vconcat": [
  {"width": 204, "height": 25, "view": {"fill": "#EFEFF3", "stroke": "#333333"}, "data": {"values": [{"g": "4.3.1"}]}, "mark": {"type": "text", "fontWeight": "bold", "fontSize": 13.5, "color": "#1A1A1A"}, "encoding": {"text": {"field": "g"}}},
  {"width": 204, "height": 330, "data": {"name": "d"}, "transform": [{"filter": "datum.g === '4.3.1'"}],
   "encoding": {
    "y": {"field": "lab", "type": "nominal", "scale": {"type": "point", "padding": 0.6, "domain": ["Pakistan : Lahore (JHL)","Pakistan : Karachi (AKU)","Pakistan : *US (CDC)","Pakistan : *England (PHE)","Pakistan : *Australia (MDU)","Pakistan : (Pooled)","Nepal : Lalitpur (PAH)","Nepal : Dhulikhel (KUH)","Nepal : (Pooled)","India : Vellore (CMC)","India : New Delhi (SAP)","India : New Delhi (CNH)","India : New Delhi (AII)","India : Mumbai (KIM)","India : Mumbai (KHM)","India : Ludhiana (CML)","India : Chennai (KKC)","India : Chandigarh (PGI)","India : Bengaluru (SJB)","India : Bathalapalli (RDT)","India : *US (CDC)","India : *New Zealand (ESR)","India : *England (PHE)","India : *Australia (MDU)","India : (Pooled)","Bangladesh : Dhaka (ICD)","Bangladesh : Dhaka (CHR)","Bangladesh : Chittagong (ICD)","Bangladesh : *US (CDC)","Bangladesh : *England (PHE)","Bangladesh : *Australia (MDU)","Bangladesh : (Pooled)"]}, "axis": {"labels": false, "ticks": false, "title": null, "gridWidth": 1.1}},
    "color": {"field": "c", "type": "nominal", "scale": {"domain": ["Bangladesh","India","Nepal","Pakistan"], "range": ["#FF0000","#0000FF","#FFA500","#000000"]}, "legend": {"title": "Country:", "orient": "none", "legendX": 122, "legendY": 1156, "direction": "horizontal", "titleOrient": "left", "symbolType": "M-0.08,-1H0.08V1H-0.08Z M0.3,0A0.3,0.3,0,1,1,-0.3,0A0.3,0.3,0,1,1,0.3,0Z", "symbolSize": 289, "symbolOpacity": 1, "symbolStrokeWidth": 0, "labelOffset": 11, "columnPadding": 11, "titlePadding": 11}}
   },
   "layer": [
    {"mark": {"type": "point", "filled": true}, "encoding": {"x": {"field": "est", "type": "quantitative", "scale": {"domain": [-0.092, 1.052], "nice": false, "zero": false}, "axis": {"values": [0,0.125,0.25,0.375,0.5,0.625,0.75,0.875,1], "labels": false, "ticks": false, "title": null, "gridWidth": {"condition": {"test": "datum.value % 0.25 === 0", "value": 1.2}, "value": 0.6}}}, "size": {"condition": {"test": "indexof(datum.lab, 'Pooled') >= 0", "value": 42}, "value": 18}, "opacity": {"condition": {"test": "indexof(datum.lab, 'Pooled') >= 0", "value": 1}, "value": 0.3}}},
    {"mark": {"type": "rule"}, "encoding": {"x": {"field": "lo", "type": "quantitative", "scale": {"domain": [-0.092, 1.052], "nice": false, "zero": false}, "axis": {"values": [0,0.125,0.25,0.375,0.5,0.625,0.75,0.875,1], "labels": false, "ticks": false, "title": null, "gridWidth": {"condition": {"test": "datum.value % 0.25 === 0", "value": 1.2}, "value": 0.6}}}, "x2": {"field": "hi"}, "strokeWidth": {"condition": {"test": "indexof(datum.lab, 'Pooled') >= 0", "value": 2.2}, "value": 1.3}}}
   ]}
 ], "spacing": 0, "bounds": "flush"},
 {"vconcat": [
  {"width": 204, "height": 25, "view": {"fill": "#EFEFF3", "stroke": "#333333"}, "data": {"values": [{"g": "4.3.1.1"}]}, "mark": {"type": "text", "fontWeight": "bold", "fontSize": 13.5, "color": "#1A1A1A"}, "encoding": {"text": {"field": "g"}}},
  {"width": 204, "height": 330, "data": {"name": "d"}, "transform": [{"filter": "datum.g === '4.3.1.1'"}],
   "encoding": {
    "y": {"field": "lab", "type": "nominal", "scale": {"type": "point", "padding": 0.6, "domain": ["Pakistan : Lahore (JHL)","Pakistan : Karachi (AKU)","Pakistan : *US (CDC)","Pakistan : *England (PHE)","Pakistan : *Australia (MDU)","Pakistan : (Pooled)","Nepal : Lalitpur (PAH)","Nepal : Dhulikhel (KUH)","Nepal : (Pooled)","India : Vellore (CMC)","India : New Delhi (SAP)","India : New Delhi (CNH)","India : New Delhi (AII)","India : Mumbai (KIM)","India : Mumbai (KHM)","India : Ludhiana (CML)","India : Chennai (KKC)","India : Chandigarh (PGI)","India : Bengaluru (SJB)","India : Bathalapalli (RDT)","India : *US (CDC)","India : *New Zealand (ESR)","India : *England (PHE)","India : *Australia (MDU)","India : (Pooled)","Bangladesh : Dhaka (ICD)","Bangladesh : Dhaka (CHR)","Bangladesh : Chittagong (ICD)","Bangladesh : *US (CDC)","Bangladesh : *England (PHE)","Bangladesh : *Australia (MDU)","Bangladesh : (Pooled)"]}, "axis": {"labels": false, "ticks": false, "title": null, "gridWidth": 1.1}},
    "color": {"field": "c", "type": "nominal", "scale": {"domain": ["Bangladesh","India","Nepal","Pakistan"], "range": ["#FF0000","#0000FF","#FFA500","#000000"]}, "legend": {"title": "Country:", "orient": "none", "legendX": 122, "legendY": 1156, "direction": "horizontal", "titleOrient": "left", "symbolType": "M-0.08,-1H0.08V1H-0.08Z M0.3,0A0.3,0.3,0,1,1,-0.3,0A0.3,0.3,0,1,1,0.3,0Z", "symbolSize": 289, "symbolOpacity": 1, "symbolStrokeWidth": 0, "labelOffset": 11, "columnPadding": 11, "titlePadding": 11}}
   },
   "layer": [
    {"mark": {"type": "point", "filled": true}, "encoding": {"x": {"field": "est", "type": "quantitative", "scale": {"domain": [-0.092, 1.052], "nice": false, "zero": false}, "axis": {"values": [0,0.125,0.25,0.375,0.5,0.625,0.75,0.875,1], "labels": false, "ticks": false, "title": null, "gridWidth": {"condition": {"test": "datum.value % 0.25 === 0", "value": 1.2}, "value": 0.6}}}, "size": {"condition": {"test": "indexof(datum.lab, 'Pooled') >= 0", "value": 42}, "value": 18}, "opacity": {"condition": {"test": "indexof(datum.lab, 'Pooled') >= 0", "value": 1}, "value": 0.3}}},
    {"mark": {"type": "rule"}, "encoding": {"x": {"field": "lo", "type": "quantitative", "scale": {"domain": [-0.092, 1.052], "nice": false, "zero": false}, "axis": {"values": [0,0.125,0.25,0.375,0.5,0.625,0.75,0.875,1], "labels": false, "ticks": false, "title": null, "gridWidth": {"condition": {"test": "datum.value % 0.25 === 0", "value": 1.2}, "value": 0.6}}}, "x2": {"field": "hi"}, "strokeWidth": {"condition": {"test": "indexof(datum.lab, 'Pooled') >= 0", "value": 2.2}, "value": 1.3}}}
   ]}
 ], "spacing": 0, "bounds": "flush"}
], "spacing": 6.5},
{"hconcat": [
 {"vconcat": [
  {"width": 204, "height": 25, "view": {"fill": "#EFEFF3", "stroke": "#333333"}, "data": {"values": [{"g": "4.3.1.1.P1"}]}, "mark": {"type": "text", "fontWeight": "bold", "fontSize": 13.5, "color": "#1A1A1A"}, "encoding": {"text": {"field": "g"}}},
  {"width": 204, "height": 330, "data": {"name": "d"}, "transform": [{"filter": "datum.g === '4.3.1.1.P1'"}],
   "encoding": {
    "y": {"field": "lab", "type": "nominal", "scale": {"type": "point", "padding": 0.6, "domain": ["Pakistan : Lahore (JHL)","Pakistan : Karachi (AKU)","Pakistan : *US (CDC)","Pakistan : *England (PHE)","Pakistan : *Australia (MDU)","Pakistan : (Pooled)","Nepal : Lalitpur (PAH)","Nepal : Dhulikhel (KUH)","Nepal : (Pooled)","India : Vellore (CMC)","India : New Delhi (SAP)","India : New Delhi (CNH)","India : New Delhi (AII)","India : Mumbai (KIM)","India : Mumbai (KHM)","India : Ludhiana (CML)","India : Chennai (KKC)","India : Chandigarh (PGI)","India : Bengaluru (SJB)","India : Bathalapalli (RDT)","India : *US (CDC)","India : *New Zealand (ESR)","India : *England (PHE)","India : *Australia (MDU)","India : (Pooled)","Bangladesh : Dhaka (ICD)","Bangladesh : Dhaka (CHR)","Bangladesh : Chittagong (ICD)","Bangladesh : *US (CDC)","Bangladesh : *England (PHE)","Bangladesh : *Australia (MDU)","Bangladesh : (Pooled)"]}, "axis": {"title": "Source laboratory", "titleOpacity": 0, "titlePadding": 2, "labelLimit": 300, "gridWidth": 1.1}},
    "color": {"field": "c", "type": "nominal", "scale": {"domain": ["Bangladesh","India","Nepal","Pakistan"], "range": ["#FF0000","#0000FF","#FFA500","#000000"]}, "legend": {"title": "Country:", "orient": "none", "legendX": 122, "legendY": 1156, "direction": "horizontal", "titleOrient": "left", "symbolType": "M-0.08,-1H0.08V1H-0.08Z M0.3,0A0.3,0.3,0,1,1,-0.3,0A0.3,0.3,0,1,1,0.3,0Z", "symbolSize": 289, "symbolOpacity": 1, "symbolStrokeWidth": 0, "labelOffset": 11, "columnPadding": 11, "titlePadding": 11}}
   },
   "layer": [
    {"mark": {"type": "point", "filled": true}, "encoding": {"x": {"field": "est", "type": "quantitative", "scale": {"domain": [-0.092, 1.052], "nice": false, "zero": false}, "axis": {"values": [0,0.125,0.25,0.375,0.5,0.625,0.75,0.875,1], "title": null, "labelExpr": "datum.value % 0.25 === 0 ? format(datum.value, '.2f') : ''", "labelAngle": -45, "labelAlign": "right", "labelBaseline": "top", "labelPadding": 4, "labelOverlap": false, "tickOpacity": {"condition": {"test": "datum.value % 0.25 === 0", "value": 1}, "value": 0}, "gridWidth": {"condition": {"test": "datum.value % 0.25 === 0", "value": 1.2}, "value": 0.6}}}, "size": {"condition": {"test": "indexof(datum.lab, 'Pooled') >= 0", "value": 42}, "value": 18}, "opacity": {"condition": {"test": "indexof(datum.lab, 'Pooled') >= 0", "value": 1}, "value": 0.3}}},
    {"mark": {"type": "rule"}, "encoding": {"x": {"field": "lo", "type": "quantitative", "scale": {"domain": [-0.092, 1.052], "nice": false, "zero": false}, "axis": {"values": [0,0.125,0.25,0.375,0.5,0.625,0.75,0.875,1], "title": null, "labelExpr": "datum.value % 0.25 === 0 ? format(datum.value, '.2f') : ''", "labelAngle": -45, "labelAlign": "right", "labelBaseline": "top", "labelPadding": 4, "labelOverlap": false, "tickOpacity": {"condition": {"test": "datum.value % 0.25 === 0", "value": 1}, "value": 0}, "gridWidth": {"condition": {"test": "datum.value % 0.25 === 0", "value": 1.2}, "value": 0.6}}}, "x2": {"field": "hi"}, "strokeWidth": {"condition": {"test": "indexof(datum.lab, 'Pooled') >= 0", "value": 2.2}, "value": 1.3}}}
   ]}
 ], "spacing": 0, "bounds": "flush"},
 {"vconcat": [
  {"width": 204, "height": 25, "view": {"fill": "#EFEFF3", "stroke": "#333333"}, "data": {"values": [{"g": "4.3.1.2"}]}, "mark": {"type": "text", "fontWeight": "bold", "fontSize": 13.5, "color": "#1A1A1A"}, "encoding": {"text": {"field": "g"}}},
  {"width": 204, "height": 330, "data": {"name": "d"}, "transform": [{"filter": "datum.g === '4.3.1.2'"}],
   "encoding": {
    "y": {"field": "lab", "type": "nominal", "scale": {"type": "point", "padding": 0.6, "domain": ["Pakistan : Lahore (JHL)","Pakistan : Karachi (AKU)","Pakistan : *US (CDC)","Pakistan : *England (PHE)","Pakistan : *Australia (MDU)","Pakistan : (Pooled)","Nepal : Lalitpur (PAH)","Nepal : Dhulikhel (KUH)","Nepal : (Pooled)","India : Vellore (CMC)","India : New Delhi (SAP)","India : New Delhi (CNH)","India : New Delhi (AII)","India : Mumbai (KIM)","India : Mumbai (KHM)","India : Ludhiana (CML)","India : Chennai (KKC)","India : Chandigarh (PGI)","India : Bengaluru (SJB)","India : Bathalapalli (RDT)","India : *US (CDC)","India : *New Zealand (ESR)","India : *England (PHE)","India : *Australia (MDU)","India : (Pooled)","Bangladesh : Dhaka (ICD)","Bangladesh : Dhaka (CHR)","Bangladesh : Chittagong (ICD)","Bangladesh : *US (CDC)","Bangladesh : *England (PHE)","Bangladesh : *Australia (MDU)","Bangladesh : (Pooled)"]}, "axis": {"labels": false, "ticks": false, "title": null, "gridWidth": 1.1}},
    "color": {"field": "c", "type": "nominal", "scale": {"domain": ["Bangladesh","India","Nepal","Pakistan"], "range": ["#FF0000","#0000FF","#FFA500","#000000"]}, "legend": {"title": "Country:", "orient": "none", "legendX": 122, "legendY": 1156, "direction": "horizontal", "titleOrient": "left", "symbolType": "M-0.08,-1H0.08V1H-0.08Z M0.3,0A0.3,0.3,0,1,1,-0.3,0A0.3,0.3,0,1,1,0.3,0Z", "symbolSize": 289, "symbolOpacity": 1, "symbolStrokeWidth": 0, "labelOffset": 11, "columnPadding": 11, "titlePadding": 11}}
   },
   "layer": [
    {"mark": {"type": "point", "filled": true}, "encoding": {"x": {"field": "est", "type": "quantitative", "scale": {"domain": [-0.092, 1.052], "nice": false, "zero": false}, "axis": {"values": [0,0.125,0.25,0.375,0.5,0.625,0.75,0.875,1], "title": null, "labelExpr": "datum.value % 0.25 === 0 ? format(datum.value, '.2f') : ''", "labelAngle": -45, "labelAlign": "right", "labelBaseline": "top", "labelPadding": 4, "labelOverlap": false, "tickOpacity": {"condition": {"test": "datum.value % 0.25 === 0", "value": 1}, "value": 0}, "gridWidth": {"condition": {"test": "datum.value % 0.25 === 0", "value": 1.2}, "value": 0.6}}}, "size": {"condition": {"test": "indexof(datum.lab, 'Pooled') >= 0", "value": 42}, "value": 18}, "opacity": {"condition": {"test": "indexof(datum.lab, 'Pooled') >= 0", "value": 1}, "value": 0.3}}},
    {"mark": {"type": "rule"}, "encoding": {"x": {"field": "lo", "type": "quantitative", "scale": {"domain": [-0.092, 1.052], "nice": false, "zero": false}, "axis": {"values": [0,0.125,0.25,0.375,0.5,0.625,0.75,0.875,1], "title": null, "labelExpr": "datum.value % 0.25 === 0 ? format(datum.value, '.2f') : ''", "labelAngle": -45, "labelAlign": "right", "labelBaseline": "top", "labelPadding": 4, "labelOverlap": false, "tickOpacity": {"condition": {"test": "datum.value % 0.25 === 0", "value": 1}, "value": 0}, "gridWidth": {"condition": {"test": "datum.value % 0.25 === 0", "value": 1.2}, "value": 0.6}}}, "x2": {"field": "hi"}, "strokeWidth": {"condition": {"test": "indexof(datum.lab, 'Pooled') >= 0", "value": 2.2}, "value": 1.3}}}
   ]}
 ], "spacing": 0, "bounds": "flush"},
 {"vconcat": [
  {"width": 204, "height": 25, "view": {"fill": "#EFEFF3", "stroke": "#333333"}, "data": {"values": [{"g": "4.3.1.2.1"}]}, "mark": {"type": "text", "fontWeight": "bold", "fontSize": 13.5, "color": "#1A1A1A"}, "encoding": {"text": {"field": "g"}}},
  {"width": 204, "height": 330, "data": {"name": "d"}, "transform": [{"filter": "datum.g === '4.3.1.2.1'"}],
   "encoding": {
    "y": {"field": "lab", "type": "nominal", "scale": {"type": "point", "padding": 0.6, "domain": ["Pakistan : Lahore (JHL)","Pakistan : Karachi (AKU)","Pakistan : *US (CDC)","Pakistan : *England (PHE)","Pakistan : *Australia (MDU)","Pakistan : (Pooled)","Nepal : Lalitpur (PAH)","Nepal : Dhulikhel (KUH)","Nepal : (Pooled)","India : Vellore (CMC)","India : New Delhi (SAP)","India : New Delhi (CNH)","India : New Delhi (AII)","India : Mumbai (KIM)","India : Mumbai (KHM)","India : Ludhiana (CML)","India : Chennai (KKC)","India : Chandigarh (PGI)","India : Bengaluru (SJB)","India : Bathalapalli (RDT)","India : *US (CDC)","India : *New Zealand (ESR)","India : *England (PHE)","India : *Australia (MDU)","India : (Pooled)","Bangladesh : Dhaka (ICD)","Bangladesh : Dhaka (CHR)","Bangladesh : Chittagong (ICD)","Bangladesh : *US (CDC)","Bangladesh : *England (PHE)","Bangladesh : *Australia (MDU)","Bangladesh : (Pooled)"]}, "axis": {"labels": false, "ticks": false, "title": null, "gridWidth": 1.1}},
    "color": {"field": "c", "type": "nominal", "scale": {"domain": ["Bangladesh","India","Nepal","Pakistan"], "range": ["#FF0000","#0000FF","#FFA500","#000000"]}, "legend": {"title": "Country:", "orient": "none", "legendX": 122, "legendY": 1156, "direction": "horizontal", "titleOrient": "left", "symbolType": "M-0.08,-1H0.08V1H-0.08Z M0.3,0A0.3,0.3,0,1,1,-0.3,0A0.3,0.3,0,1,1,0.3,0Z", "symbolSize": 289, "symbolOpacity": 1, "symbolStrokeWidth": 0, "labelOffset": 11, "columnPadding": 11, "titlePadding": 11}}
   },
   "layer": [
    {"mark": {"type": "point", "filled": true}, "encoding": {"x": {"field": "est", "type": "quantitative", "scale": {"domain": [-0.092, 1.052], "nice": false, "zero": false}, "axis": {"values": [0,0.125,0.25,0.375,0.5,0.625,0.75,0.875,1], "title": null, "labelExpr": "datum.value % 0.25 === 0 ? format(datum.value, '.2f') : ''", "labelAngle": -45, "labelAlign": "right", "labelBaseline": "top", "labelPadding": 4, "labelOverlap": false, "tickOpacity": {"condition": {"test": "datum.value % 0.25 === 0", "value": 1}, "value": 0}, "gridWidth": {"condition": {"test": "datum.value % 0.25 === 0", "value": 1.2}, "value": 0.6}}}, "size": {"condition": {"test": "indexof(datum.lab, 'Pooled') >= 0", "value": 42}, "value": 18}, "opacity": {"condition": {"test": "indexof(datum.lab, 'Pooled') >= 0", "value": 1}, "value": 0.3}}},
    {"mark": {"type": "rule"}, "encoding": {"x": {"field": "lo", "type": "quantitative", "scale": {"domain": [-0.092, 1.052], "nice": false, "zero": false}, "axis": {"values": [0,0.125,0.25,0.375,0.5,0.625,0.75,0.875,1], "title": null, "labelExpr": "datum.value % 0.25 === 0 ? format(datum.value, '.2f') : ''", "labelAngle": -45, "labelAlign": "right", "labelBaseline": "top", "labelPadding": 4, "labelOverlap": false, "tickOpacity": {"condition": {"test": "datum.value % 0.25 === 0", "value": 1}, "value": 0}, "gridWidth": {"condition": {"test": "datum.value % 0.25 === 0", "value": 1.2}, "value": 0.6}}}, "x2": {"field": "hi"}, "strokeWidth": {"condition": {"test": "indexof(datum.lab, 'Pooled') >= 0", "value": 2.2}, "value": 1.3}}}
   ]}
 ], "spacing": 0, "bounds": "flush"}
], "spacing": 6.5}
],
"config": {
 "font": "Liberation Sans",
 "view": {"stroke": "#333333", "strokeWidth": 1},
 "axis": {"gridColor": "#EBEBEB", "domain": false, "tickColor": "#333333", "tickSize": 3.6, "tickWidth": 1, "labelColor": "#333333", "labelFont": "Liberation Sans", "labelFontSize": 9.85, "titleFont": "Liberation Sans", "titleFontSize": 15, "titleFontWeight": "normal", "titleColor": "#000000", "labelPadding": 2},
 "legend": {"labelFont": "Liberation Sans", "labelFontSize": 12.25, "labelColor": "#000000", "titleFont": "Liberation Sans", "titleFontSize": 13.7, "titleFontWeight": "bold", "titleColor": "#000000"}
}
}
